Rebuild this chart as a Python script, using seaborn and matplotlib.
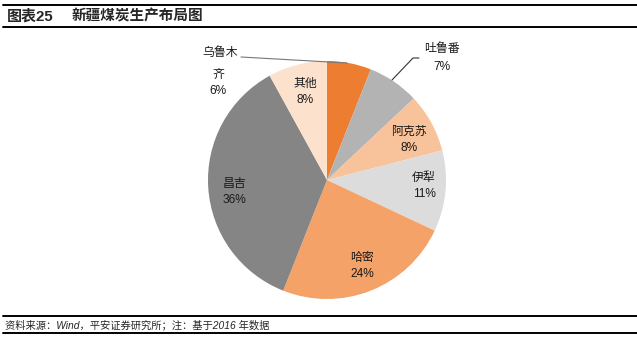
import matplotlib
matplotlib.use("Agg")
import matplotlib.pyplot as plt
import seaborn as sns

# Xinjiang coal output share by region (2016), clockwise from 12 o'clock
regions = ["乌鲁木齐", "吐鲁番", "阿克苏", "伊犁", "哈密", "昌吉", "其他"]
shares = [6, 7, 8, 11, 24, 36, 8]
colors = ["#ED7D31", "#B3B3B3", "#F8C29A", "#DCDCDC", "#F4A267", "#858585", "#FCE1CD"]

sns.set_theme(style="white")
plt.rcParams["font.family"] = ["Liberation Sans", "Noto Sans CJK SC", "DejaVu Sans"]

W, H = 637, 338
fig = plt.figure(figsize=(W / 100, H / 100), dpi=100)
fig.patch.set_facecolor("white")

# pie axes: centre (327, 180) px, radius 119 px
cx, cy, r = 327, 180, 119
ax = fig.add_axes([(cx - r) / W, (H - cy - r) / H, 2 * r / W, 2 * r / H])
ax.pie(shares, colors=sns.color_palette(colors), startangle=90, counterclock=False,
       radius=1, wedgeprops=dict(linewidth=0))
ax.set_xlim(-1, 1)
ax.set_ylim(-1, 1)
ax.set_aspect("auto")
ax.axis("off")


def px(x, y):
    return (x - cx) / r, (cy - y) / r


def label(x, y, s):
    ax.text(*px(x, y), s, ha="center", va="center", fontsize=8.6, color="#1a1a1a",
            clip_on=False)


pct = [f"{v}%" for v in shares]
# inside labels
label(305, 84, regions[6]); label(305, 100, pct[6])
label(409, 132, regions[2]); label(409, 148, pct[2])
label(424, 178, regions[3]); label(424, 194, pct[3])
label(362, 258, regions[4]); label(362, 274, pct[4])
label(234, 184, regions[5]); label(234, 200, pct[5])
# outside labels with leader lines
label(220, 53, regions[0][:3]); label(218, 75, regions[0][3:]); label(218, 91, pct[0])
label(442, 49, regions[1]); label(442, 67, pct[1])
ax.plot(*zip(px(241, 57), px(347, 63)), color="#777777", lw=0.8, clip_on=False)
ax.plot(*zip(px(419, 58), px(413, 58), px(392, 80)), color="#333333", lw=0.8, clip_on=False)

# header and footer rules
for yy in (5, 27, 316, 333):
    fig.add_artist(plt.Line2D([3 / W, 1.0], [1 - yy / H] * 2, color="black", lw=1.4))

fig.text(7 / W, 1 - 16.5 / H, "图表25", fontsize=10.8, fontweight="heavy", va="center", ha="left")
fig.text(72 / W, 1 - 16.5 / H, "新疆煤炭生产布局图", fontsize=10.5, fontweight="heavy",
         va="center", ha="left")
fig.text(5 / W, 1 - 325 / H, "资料来源：Wind，平安证券研究所；注：基于2016 年数据",
         fontsize=7.4, style="italic", va="center", ha="left")

fig.savefig("out.png", dpi=100, facecolor="white")
